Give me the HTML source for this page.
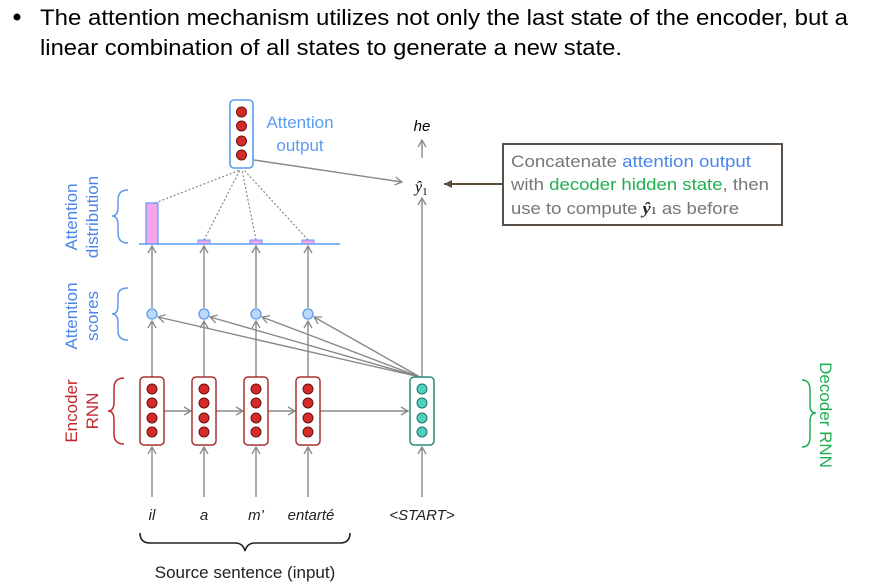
<!DOCTYPE html>
<html><head><meta charset="utf-8"><style>
body{margin:0;background:#fff;width:871px;height:585px;overflow:hidden;font-family:"Liberation Sans","DejaVu Sans",sans-serif}
svg{position:absolute;left:0;top:0}
</style></head><body>
<svg width="871" height="585" viewBox="0 0 871 585" xmlns="http://www.w3.org/2000/svg" font-family="Liberation Sans, DejaVu Sans, sans-serif">
<defs>
<marker id="ar" markerWidth="10" markerHeight="10" refX="8" refY="5" orient="auto" markerUnits="userSpaceOnUse"><path d="M1,1 L8,5 L1,9" fill="none" stroke="#888" stroke-width="1.3"/></marker>
<marker id="ab" markerWidth="12" markerHeight="12" refX="10" refY="6" orient="auto" markerUnits="userSpaceOnUse"><path d="M2,2 L10,6 L2,10 Z" fill="#5a4a3a"/></marker>
</defs>
<circle cx="17" cy="17" r="3.5" fill="#000"/>
<text x="40" y="25" font-size="22" fill="#000" textLength="808" lengthAdjust="spacingAndGlyphs">The attention mechanism utilizes not only the last state of the encoder, but a</text>
<text x="40" y="55" font-size="22" fill="#000" textLength="582" lengthAdjust="spacingAndGlyphs">linear combination of all states to generate a new state.</text>

<g stroke="#888" stroke-width="1.4" fill="none">
<line x1="152" y1="497" x2="152" y2="447" marker-end="url(#ar)"/>
<line x1="204" y1="497" x2="204" y2="447" marker-end="url(#ar)"/>
<line x1="256" y1="497" x2="256" y2="447" marker-end="url(#ar)"/>
<line x1="308" y1="497" x2="308" y2="447" marker-end="url(#ar)"/>
<line x1="422" y1="497" x2="422" y2="447" marker-end="url(#ar)"/>
<line x1="164" y1="411" x2="191" y2="411" marker-end="url(#ar)"/>
<line x1="216" y1="411" x2="243" y2="411" marker-end="url(#ar)"/>
<line x1="268" y1="411" x2="295" y2="411" marker-end="url(#ar)"/>
<line x1="320" y1="411" x2="408" y2="411" marker-end="url(#ar)"/>
<line x1="152" y1="377" x2="152" y2="321" marker-end="url(#ar)"/>
<line x1="204" y1="377" x2="204" y2="321" marker-end="url(#ar)"/>
<line x1="256" y1="377" x2="256" y2="321" marker-end="url(#ar)"/>
<line x1="308" y1="377" x2="308" y2="321" marker-end="url(#ar)"/>
<line x1="420" y1="377" x2="158" y2="317" marker-end="url(#ar)"/>
<line x1="420" y1="377" x2="210" y2="317" marker-end="url(#ar)"/>
<line x1="420" y1="377" x2="262" y2="317" marker-end="url(#ar)"/>
<line x1="420" y1="377" x2="314" y2="317" marker-end="url(#ar)"/>
<line x1="152" y1="308" x2="152" y2="246" marker-end="url(#ar)"/>
<line x1="204" y1="308" x2="204" y2="246" marker-end="url(#ar)"/>
<line x1="256" y1="308" x2="256" y2="246" marker-end="url(#ar)"/>
<line x1="308" y1="308" x2="308" y2="246" marker-end="url(#ar)"/>
<line x1="422" y1="377" x2="422" y2="198" marker-end="url(#ar)"/>
<line x1="422" y1="158" x2="422" y2="140" marker-end="url(#ar)"/>
<line x1="254" y1="160" x2="402" y2="182" marker-end="url(#ar)"/>
</g>
<g stroke="#888" stroke-width="1.2" stroke-dasharray="2,2" fill="none">
<line x1="155" y1="203" x2="240" y2="170"/>
<line x1="204" y1="240" x2="240" y2="170"/>
<line x1="256" y1="240" x2="242" y2="170"/>
<line x1="308" y1="240" x2="244" y2="170"/>
</g>
<line x1="139" y1="244" x2="340" y2="244" stroke="#5b9bf0" stroke-width="1.5"/>
<rect x="146" y="203" width="12" height="41" fill="#f4a6ea" stroke="#5b9bf0" stroke-width="1.2"/>
<rect x="198" y="240" width="12" height="4" fill="#f4a6ea" stroke="#5b9bf0" stroke-width="1"/>
<rect x="250" y="240" width="12" height="4" fill="#f4a6ea" stroke="#5b9bf0" stroke-width="1"/>
<rect x="302" y="240" width="12" height="4" fill="#f4a6ea" stroke="#5b9bf0" stroke-width="1"/>
<g fill="#bcd8fa" stroke="#5b9bf0" stroke-width="1.3">
<circle cx="152" cy="314" r="5"/><circle cx="204" cy="314" r="5"/><circle cx="256" cy="314" r="5"/><circle cx="308" cy="314" r="5"/>
</g>
<g>
<g id="enc"><rect x="140" y="377" width="24" height="68" rx="4" fill="#fff" stroke="#a83232" stroke-width="1.5"/>
<g fill="#d42a2a" stroke="#6a1010" stroke-width="1"><circle cx="152" cy="389" r="5"/><circle cx="152" cy="403" r="5"/><circle cx="152" cy="418" r="5"/><circle cx="152" cy="432" r="5"/></g></g>
<use href="#enc" x="52"/><use href="#enc" x="104"/><use href="#enc" x="156"/>
</g>
<rect x="410" y="377" width="24" height="68" rx="4" fill="#fff" stroke="#2a8a78" stroke-width="1.5"/>
<g fill="#4fd1c0" stroke="#1f7060" stroke-width="1"><circle cx="422" cy="389" r="5"/><circle cx="422" cy="403" r="5"/><circle cx="422" cy="418" r="5"/><circle cx="422" cy="432" r="5"/></g>
<rect x="230" y="100" width="23" height="68" rx="4" fill="#fff" stroke="#5b9bf0" stroke-width="1.6"/>
<g fill="#d42a2a" stroke="#6a1010" stroke-width="1"><circle cx="241.5" cy="112" r="5"/><circle cx="241.5" cy="126" r="5"/><circle cx="241.5" cy="141" r="5"/><circle cx="241.5" cy="155" r="5"/></g>
<text x="300" y="128" font-size="17" fill="#5b9bf0" text-anchor="middle">Attention</text>
<text x="300" y="151" font-size="17" fill="#5b9bf0" text-anchor="middle">output</text>
<text x="422" y="131" font-size="15" font-style="italic" text-anchor="middle">he</text>
<text x="415" y="192" font-size="16" font-style="italic" font-family="Liberation Serif, serif">ŷ<tspan font-size="11" font-style="normal" dy="3">1</tspan></text>
<line x1="503" y1="184" x2="444" y2="184" stroke="#5a4a3a" stroke-width="2" marker-end="url(#ab)"/>
<rect x="503" y="144" width="279" height="81" fill="#fff" stroke="#5a5048" stroke-width="2"/>
<g font-size="17" fill="#777">
<text x="511" y="167" textLength="240" lengthAdjust="spacingAndGlyphs">Concatenate <tspan fill="#4a86e8">attention output</tspan></text>
<text x="511" y="190" textLength="258" lengthAdjust="spacingAndGlyphs">with <tspan fill="#1fae50">decoder hidden state</tspan>, then</text>
<text x="511" y="214" textLength="228" lengthAdjust="spacingAndGlyphs">use to compute <tspan fill="#222" font-style="italic" font-weight="bold" font-family="Liberation Serif, serif">ŷ<tspan font-size="11" font-weight="normal" font-style="normal">1</tspan></tspan> as before</text>
</g>
<g font-size="15" font-style="italic" fill="#222" text-anchor="middle">
<text x="152" y="520">il</text><text x="204" y="520">a</text><text x="256" y="520">m’</text><text x="311" y="520">entarté</text><text x="422" y="520">&lt;START&gt;</text>
</g>
<path d="M140,533 Q140,543 150,543 L235,543 Q243,543 245,551 Q247,543 255,543 L340,543 Q350,543 350,533" fill="none" stroke="#222" stroke-width="1.6"/>
<text x="245" y="578" font-size="17" fill="#222" text-anchor="middle">Source sentence (input)</text>
<g font-size="17" text-anchor="middle">
<text transform="translate(77,217) rotate(-90)" fill="#4a86e8">Attention</text>
<text transform="translate(98,217) rotate(-90)" fill="#4a86e8">distribution</text>
<text transform="translate(77,316) rotate(-90)" fill="#4a86e8">Attention</text>
<text transform="translate(98,316) rotate(-90)" fill="#4a86e8">scores</text>
<text transform="translate(77,411) rotate(-90)" fill="#c0282d">Encoder</text>
<text transform="translate(98,411) rotate(-90)" fill="#c0282d">RNN</text>
<text transform="translate(820,415) rotate(90)" fill="#1fae50">Decoder RNN</text>
</g>
<g fill="none" stroke-width="1.5">
<path d="M128,190 Q118,190 118,200 L118,207 Q118,216 112,216 Q118,216 118,225 L118,233 Q118,243 128,243" stroke="#5b9bf0"/>
<path d="M128,288 Q118,288 118,296 L118,305 Q118,314 112,314 Q118,314 118,323 L118,331 Q118,340 128,340" stroke="#5b9bf0"/>
<path d="M124,378 Q114,378 114,388 L114,402 Q114,411 108,411 Q114,411 114,420 L114,434 Q114,444 124,444" stroke="#c0282d"/>
<path d="M802,380 Q810,380 810,390 L810,405 Q810,413 816,413 Q810,413 810,421 L810,437 Q810,447 802,447" stroke="#1fae50"/>
</g>
</svg>
</body></html>
